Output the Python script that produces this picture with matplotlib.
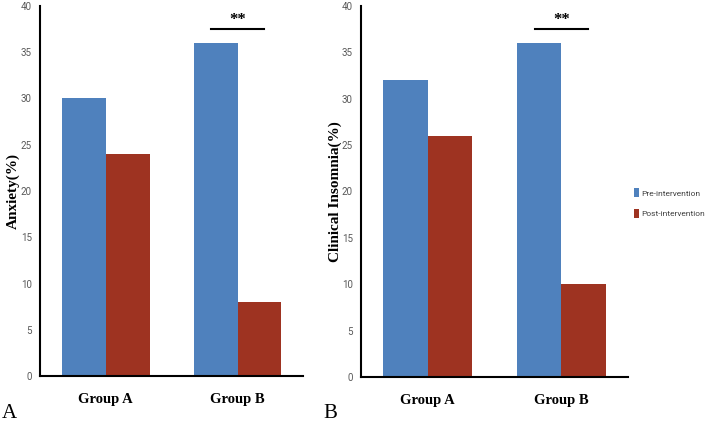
import numpy as np
import matplotlib
matplotlib.use("Agg")
import matplotlib.pyplot as plt

groups = ["Group A", "Group B"]
anxiety_pre = [30, 36]
anxiety_post = [24, 8]
insomnia_pre = [32, 36]
insomnia_post = [26, 10]
series_names = ["Pre-intervention", "Post-intervention"]
yticks = [0, 5, 10, 15, 20, 25, 30, 35, 40]

blue = "#4F81BD"
red = "#9E3321"
serif = "Liberation Serif"
narrow = ["Roboto", "DejaVu Sans"]

fig = plt.figure(figsize=(7.08, 4.23), dpi=100)
axA = fig.add_axes([0.0565, 0.111, 0.372, 0.875])
axB = fig.add_axes([0.510, 0.109, 0.377, 0.877])

def panel(ax, pre, post, ylabel, labelx):
    x = np.arange(len(groups))
    w = 1.0 / 3
    b1 = ax.bar(x - w / 2, pre, w, color=blue, label=series_names[0])
    b2 = ax.bar(x + w / 2, post, w, color=red, label=series_names[1])
    ax.set_xlim(-0.5, 1.5)
    ax.set_ylim(0, 40)
    ax.set_yticks(yticks)
    ax.set_yticklabels([str(t) for t in yticks], family=narrow)
    ax.tick_params(axis="y", length=0, labelsize=7, labelcolor="#595959", pad=6)
    ax.tick_params(axis="x", length=0, pad=12)
    ax.set_xticks(x)
    ax.set_xticklabels(groups, fontfamily=serif, fontweight="bold", fontsize=10.5)
    for s in ["top", "right"]:
        ax.spines[s].set_visible(False)
    for s in ["left", "bottom"]:
        ax.spines[s].set_linewidth(1.5)
        ax.spines[s].set_color("black")
    ax.set_ylabel(ylabel, fontfamily=serif, fontweight="bold", fontsize=11)
    ax.yaxis.set_label_coords(labelx, 0.5)
    # significance bar over group B
    ax.plot([1 - 0.2, 1 + 0.2], [37.5, 37.5], color="black", lw=1.5, clip_on=False)
    ax.text(1, 37.6, "**", ha="center", va="bottom", fontsize=12,
            fontfamily=serif, fontweight="bold")
    return b1, b2

panel(axA, anxiety_pre, anxiety_post, "Anxiety(%)", -0.076)
h = panel(axB, insomnia_pre, insomnia_post, "Clinical Insomnia(%)", -0.072)

fig.legend(h, series_names, loc="center left", bbox_to_anchor=(0.887, 0.52),
           frameon=False, prop={"family": narrow, "size": 6.0}, handlelength=0.6,
           handleheight=1.2, handletextpad=0.3, labelspacing=1.45,
           borderpad=0.2, labelcolor="#404040")

fig.text(0.003, 0.012, "A", fontfamily=serif, fontsize=15, va="baseline")
fig.text(0.457, 0.012, "B", fontfamily=serif, fontsize=15, va="baseline")

fig.savefig("out.png", dpi=100)
